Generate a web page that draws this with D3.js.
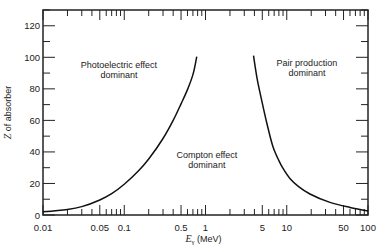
<!DOCTYPE html>
<html><head><meta charset="utf-8">
<script src="https://cdn.jsdelivr.net/npm/d3@7"></script>
<style>body{margin:0;background:#fff}svg{display:block}text{font-family:"Liberation Sans",Arial,sans-serif;fill:#222}</style>
</head><body>
<script>
// Photoelectric / Compton boundary (E in MeV, Z)
const photoE = [0.01, 0.02, 0.03, 0.05, 0.07, 0.1, 0.15, 0.2, 0.3, 0.4, 0.5, 0.6, 0.7, 0.78];
const photoZ = [2, 3.5, 5.3, 9.5, 13.5, 19.5, 28, 35.5, 48.5, 60, 70.5, 79.5, 89, 100.5];
// Compton / pair production boundary
const pairE = [3.9, 4.3, 4.9, 5.7, 6.8, 8, 9, 11, 14, 19.3, 34, 60, 100];
const pairZ = [101, 87, 73, 58, 43, 34.5, 29.5, 23, 18, 13.3, 8, 4.8, 2.6];
const xTickLabels = [0.01, 0.05, 0.1, 0.5, 1, 5, 10, 50, 100];
const yTickLabels = [0, 20, 40, 60, 80, 100, 120];
const labels = [
  {lines: ["Photoelectric effect", "dominant"], E: 0.086, Z: 93},
  {lines: ["Compton effect", "dominant"], E: 1.04, Z: 36},
  {lines: ["Pair production", "dominant"], E: 17.7, Z: 94.5}
];

const W = 385, H = 250;
const m = {l: 43, r: 17, t: 10, b: 35};
const svg = d3.select("body").append("svg").attr("width", W).attr("height", H);
const x = d3.scaleLog().domain([0.01, 100]).range([m.l, W - m.r]);
const y = d3.scaleLinear().domain([0, 130]).range([H - m.b, m.t]);

// minor/major ticks
const xMinor = [];
for (let d = -2; d < 2; d++) for (let k = 1; k <= 9; k++) xMinor.push(k * Math.pow(10, d));
xMinor.push(100);
const isMajorX = v => xTickLabels.some(t => Math.abs(t - v) / t < 1e-6);
const yAll = d3.range(0, 131, 10);
const isMajorY = v => v % 20 === 0;

const g = svg.append("g").attr("stroke", "#222").attr("stroke-width", 1);
xMinor.forEach(v => {
  const L = isMajorX(v) ? 10 : 6;
  g.append("line").attr("x1", x(v)).attr("x2", x(v)).attr("y1", y(0)).attr("y2", y(0) - L);
  g.append("line").attr("x1", x(v)).attr("x2", x(v)).attr("y1", y(130)).attr("y2", y(130) + L);
});
yAll.forEach(v => {
  const L = isMajorY(v) ? 12 : 7;
  g.append("line").attr("x1", x(0.01)).attr("x2", x(0.01) + L).attr("y1", y(v)).attr("y2", y(v));
  g.append("line").attr("x1", x(100)).attr("x2", x(100) - L).attr("y1", y(v)).attr("y2", y(v));
});
svg.append("rect").attr("x", m.l).attr("y", m.t).attr("width", W - m.l - m.r).attr("height", H - m.t - m.b)
  .attr("fill", "none").attr("stroke", "#222").attr("stroke-width", 1.5);

// tick labels
svg.append("g").selectAll("text").data(xTickLabels).join("text")
  .attr("x", d => x(d)).attr("y", y(0) + 16).attr("text-anchor", "middle").attr("font-size", 9.5)
  .text(d => d);
svg.append("g").selectAll("text").data(yTickLabels).join("text")
  .attr("x", m.l - 3).attr("y", d => y(d) + 3.5).attr("text-anchor", "end").attr("font-size", 9.5)
  .text(d => d);

// axis titles
const xt = svg.append("text").attr("x", x(1) - 2).attr("y", H - 8).attr("text-anchor", "middle").attr("font-size", 9);
xt.append("tspan").attr("font-family", "Liberation Serif, serif").attr("font-style", "italic").attr("font-size", 10).text("E");
xt.append("tspan").attr("dy", 2).attr("font-size", 7).attr("font-family", "Liberation Serif, serif").text("γ");
xt.append("tspan").attr("dy", -2).text(" (MeV)");
svg.append("text").attr("transform", `translate(11,${(y(0) + y(130)) / 2}) rotate(-90)`)
  .attr("text-anchor", "middle").attr("font-size", 9)
  .html('<tspan font-family="Liberation Serif, serif" font-style="italic" font-size="10">Z</tspan> of absorber');

// curves
const line = d3.line().x(d => x(d[0])).y(d => y(d[1])).curve(d3.curveCatmullRom.alpha(0.5));
svg.append("path").datum(photoE.map((e, i) => [e, photoZ[i]])).attr("d", line)
  .attr("fill", "none").attr("stroke", "#111").attr("stroke-width", 1.5);
svg.append("path").datum(pairE.map((e, i) => [e, pairZ[i]])).attr("d", line)
  .attr("fill", "none").attr("stroke", "#111").attr("stroke-width", 1.5);

// region labels
labels.forEach(l => {
  const t = svg.append("text").attr("text-anchor", "middle").attr("font-size", 9);
  l.lines.forEach((s, i) => t.append("tspan").attr("x", x(l.E)).attr("y", y(l.Z) + i * 10).text(s));
});
</script>
</body></html>
